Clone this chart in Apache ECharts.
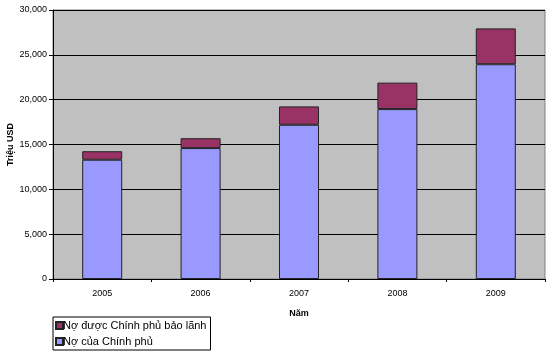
<!DOCTYPE html>
<html><head><meta charset="utf-8">
<script src="https://cdn.jsdelivr.net/npm/echarts@6/dist/echarts.min.js"></script>
<style>html,body{margin:0;padding:0;background:#fff}#c{width:550px;height:364px}</style>
</head><body><div id="c"></div>
<script>
const categories = ['2005','2006','2007','2008','2009'];
const govDebt = [13300, 14600, 17200, 18950, 23950];
const guaranteedDebt = [950, 1100, 2050, 2950, 4000];
const seriesNames = ['Nợ của Chính phủ', 'Nợ được Chính phủ bảo lãnh'];
const yTicks = [0, 5000, 10000, 15000, 20000, 25000, 30000];

const chart = echarts.init(document.getElementById('c'));
const font = 'Liberation Sans, Arial, sans-serif';
chart.setOption({
  animation: false,
  backgroundColor: '#fff',
  grid: { left: 53, right: 5, top: 10, bottom: 85, outerBoundsMode: 'none', containLabel: false,
    show: true, backgroundColor: '#C0C0C0', borderColor: '#808080', borderWidth: 1 },
  xAxis: {
    type: 'category', data: categories,
    name: 'Năm', nameLocation: 'middle', nameGap: 30, nameMoveOverlap: false,
    nameTextStyle: { fontFamily: font, fontSize: 9, fontWeight: 'bold', color: '#000' },
    axisLine: { lineStyle: { color: '#000', width: 1 } },
    axisTick: { show: true, length: 3, lineStyle: { color: '#000' } },
    axisLabel: { fontFamily: font, fontSize: 9, color: '#000', margin: 10 }
  },
  yAxis: {
    type: 'value', min: 0, max: 30000, interval: 5000,
    name: 'Triệu USD', nameLocation: 'middle', nameGap: 38, nameRotate: 90, nameMoveOverlap: false,
    nameTextStyle: { fontFamily: font, fontSize: 9, fontWeight: 'bold', color: '#000' },
    axisLine: { show: true, lineStyle: { color: '#000', width: 1 } },
    axisTick: { show: true, length: 4, lineStyle: { color: '#000' } },
    axisLabel: { fontFamily: font, fontSize: 9, color: '#000', margin: 6,
      formatter: v => yTicks.includes(v) ? v.toLocaleString('en-US') : '' },
    splitLine: { lineStyle: { color: '#000', width: 1 } }
  },
  legend: {
    orient: 'vertical', left: 53, top: 317,
    data: [seriesNames[1], seriesNames[0]],
    icon: 'rect', itemWidth: 7, itemHeight: 7, itemGap: 5,
    padding: [3, 4, 3, 2],
    borderColor: '#000', borderWidth: 1,
    textStyle: { fontFamily: font, fontSize: 11, color: '#000', padding: [0, 0, 0, -5] }
  },
  series: [
    { name: seriesNames[0], type: 'bar', stack: 's', data: govDebt, barWidth: 40,
      itemStyle: { color: '#9999FF', borderColor: '#222', borderWidth: 1 } },
    { name: seriesNames[1], type: 'bar', stack: 's', data: guaranteedDebt, barWidth: 40,
      itemStyle: { color: '#993366', borderColor: '#222', borderWidth: 1 } }
  ]
});
</script></body></html>
